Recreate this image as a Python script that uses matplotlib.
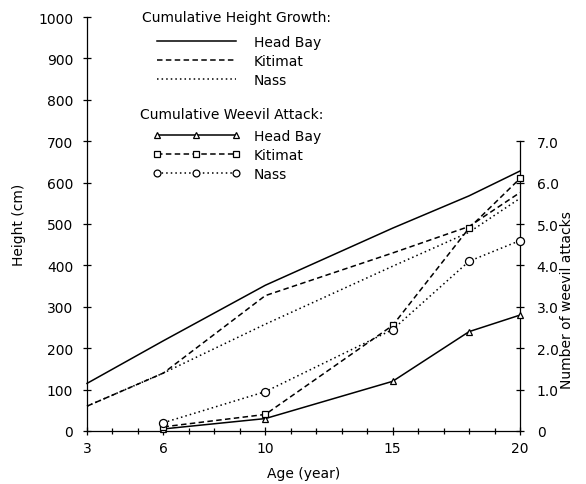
import numpy as np
import matplotlib
matplotlib.use("Agg")
import matplotlib.pyplot as plt
from matplotlib.ticker import MultipleLocator
from matplotlib.lines import Line2D

plt.rcParams['font.family'] = ['DejaVu Sans']
plt.rcParams['font.size'] = 10

## data
# cumulative height growth (cm) by age
age_height = [3, 6, 10, 15, 18, 20]
height_head_bay = [115, 218, 352, 490, 568, 628]
height_kitimat = [60, 140, 327, 430, 494, 576]
height_nass = [60, 140, 258, 398, 480, 562]

# cumulative weevil attacks (count) by age
age_weevil = [6, 10, 15, 18, 20]
weevil_head_bay = [0.05, 0.3, 1.2, 2.4, 2.8]
weevil_kitimat = [0.1, 0.4, 2.55, 4.9, 6.1]
weevil_nass = [0.2, 0.95, 2.45, 4.1, 4.6]

sites = ['Head Bay', 'Kitimat', 'Nass']
x_ticks = [3, 6, 10, 15, 20]
attack_ticks = [0, 1, 2, 3, 4, 5, 6, 7]
attack_labels = ['0', '1.0', '2.0', '3.0', '4.0', '5.0', '6.0', '7.0']

# line styles per site
styles = ['-', (0, (3.6, 2.2)), (0, (1, 2))]
markers = ['^', 's', 'o']
msizes = [5, 4.6, 5.8]
LW = 1.1

fig = plt.figure(figsize=(5.86, 4.85), dpi=100)
ax = fig.add_axes([87 / 586, 53 / 485, 433 / 586, 414 / 485])
ax2 = ax.twinx()

# height curves
for ys, ls in zip([height_head_bay, height_kitimat, height_nass], styles):
    ax.plot(age_height, ys, color='k', lw=LW, ls=ls, clip_on=False)

# weevil attack curves (right axis)
for ys, ls, mk, ms in zip([weevil_head_bay, weevil_kitimat, weevil_nass], styles, markers, msizes):
    ax2.plot(age_weevil, ys, color='k', lw=LW, ls=ls, marker=mk, ms=ms,
             mfc='white', mec='k', mew=0.9, clip_on=False, zorder=3)

ax.set_xlim(3, 20)
ax.set_ylim(0, 1000)
ax2.set_ylim(0, 10)

# spines
for a in (ax, ax2):
    a.spines['top'].set_visible(False)
ax.spines['right'].set_visible(False)
ax2.spines['left'].set_visible(False)
ax2.spines['bottom'].set_visible(False)
ax2.spines['right'].set_bounds(0, 7)
for sp in ('left', 'bottom'):
    ax.spines[sp].set_linewidth(0.9)
ax2.spines['right'].set_linewidth(0.9)

# ticks
ax.yaxis.set_major_locator(MultipleLocator(100))
ax.tick_params(axis='y', direction='inout', length=6, width=0.9, pad=7)
ax.set_xticks(x_ticks)
ax.xaxis.set_minor_locator(MultipleLocator(1))
ax.tick_params(axis='x', which='major', direction='inout', length=6, width=0.9, pad=4)
ax.tick_params(axis='x', which='minor', direction='inout', length=5, width=0.9)
ax2.set_yticks(attack_ticks)
ax2.set_yticklabels(attack_labels)
ax2.tick_params(axis='y', direction='inout', length=6, width=0.9, pad=9)

ax.set_xlabel('Age (year)', labelpad=8)
ax.set_ylabel('Height (cm)')
ax.yaxis.set_label_coords(-0.142, 0.5)
ax2.set_ylabel('Number of weevil attacks', rotation=90)
ax2.yaxis.set_label_coords(1.092, 0.319)

# legends
h_height = [Line2D([], [], color='k', lw=LW, ls=ls) for ls in styles]
h_weevil = [Line2D([], [], color='k', lw=LW, ls=ls, marker=mk, ms=ms * 0.85,
                   mfc='white', mec='k', mew=0.9)
            for ls, mk, ms in zip(styles, markers, msizes)]

leg_kw = dict(loc='upper left', bbox_transform=fig.transFigure, frameon=False,
              handlelength=6.26, handletextpad=1.0, labelspacing=0.36,
              borderpad=0, borderaxespad=0, numpoints=3)
leg1 = ax2.legend(handles=h_height, labels=sites,
                  bbox_to_anchor=(153 / 586, 1 - 36 / 485), **leg_kw)
ax2.add_artist(leg1)
leg2 = ax2.legend(handles=h_weevil, labels=sites,
                  bbox_to_anchor=(153 / 586, 1 - 130 / 485), **leg_kw)

fig.text(142 / 586, 1 - 18 / 485, 'Cumulative Height Growth:', va='center', ha='left')
fig.text(140 / 586, 1 - 115 / 485, 'Cumulative Weevil Attack:', va='center', ha='left')

fig.savefig('out.png', dpi=100)
